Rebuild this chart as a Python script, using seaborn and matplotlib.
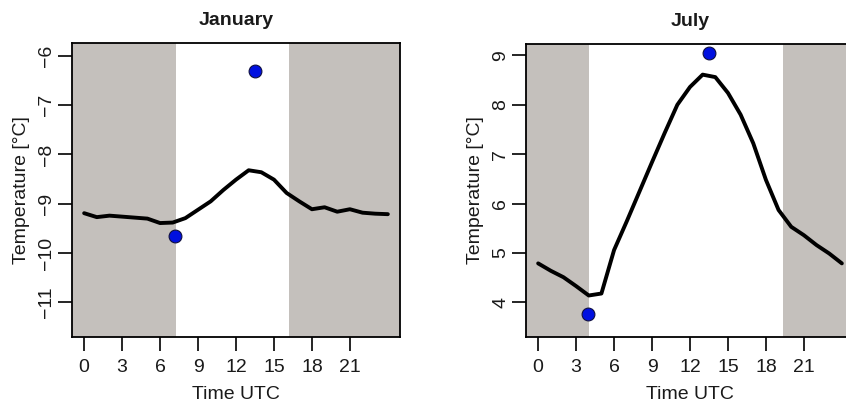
import numpy as np
import pandas as pd
import matplotlib
matplotlib.use("Agg")
import matplotlib.pyplot as plt
import seaborn as sns

# ---- data ----
hours = list(range(25))
jan_temp = [-9.19, -9.27, -9.24, -9.26, -9.28, -9.30, -9.39, -9.38, -9.29, -9.12,
            -8.95, -8.72, -8.51, -8.32, -8.36, -8.51, -8.78, -8.95, -9.11, -9.07,
            -9.16, -9.11, -9.18, -9.20, -9.21]
jul_temp = [4.79, 4.64, 4.51, 4.33, 4.14, 4.18, 5.06, 5.64, 6.24, 6.84,
            7.43, 8.00, 8.36, 8.61, 8.56, 8.24, 7.80, 7.22, 6.48, 5.87,
            5.53, 5.36, 5.16, 4.99, 4.79]
jan_pts_x = [7.16, 13.52]
jan_pts_y = [-9.66, -6.30]
jul_pts_x = [3.95, 13.53]
jul_pts_y = [3.76, 9.05]
jan_daylight = (7.25, 16.2)
jul_daylight = (4.0, 19.34)
titles = ["January", "July"]
xticks = [0, 3, 6, 9, 12, 15, 18, 21]
jan_yticks = [-11, -10, -9, -8, -7, -6]
jul_yticks = [4, 5, 6, 7, 8, 9]

sns.set_style("white")
plt.rcParams["font.family"] = ["Liberation Sans", "DejaVu Sans"]
plt.rcParams["font.size"] = 14

fig = plt.figure(figsize=(8.46, 4.08), dpi=100)
ax1 = fig.add_axes([72/846, 1-337/408, 328/846, (337-43)/408])
ax2 = fig.add_axes([526/846, 1-337/408, 328/846, (337-44)/408])

panels = [
    (ax1, jan_temp, jan_pts_x, jan_pts_y, jan_daylight, titles[0], jan_yticks, (-11.70, -5.74)),
    (ax2, jul_temp, jul_pts_x, jul_pts_y, jul_daylight, titles[1], jul_yticks, (3.30, 9.23)),
]
gray = "#C4C0BC"
txtc = "#1a1a1a"
fs = 14
for ax, temp, px, py, day, title, yt, ylim in panels:
    ax.set_facecolor("white")
    ax.axvspan(-5, day[0], color=gray, lw=0, zorder=0)
    ax.axvspan(day[1], 30, color=gray, lw=0, zorder=0)
    df = pd.DataFrame({"hour": hours, "temp": temp})
    sns.lineplot(data=df, x="hour", y="temp", ax=ax, color="black", lw=2.8, zorder=3)
    sns.scatterplot(x=px, y=py, ax=ax, color="#0010E0", edgecolor="#101040",
                    s=85, linewidth=0.8, zorder=4)
    ax.set_xlim(-0.96, 24.96)
    ax.set_ylim(*ylim)
    ax.set_xticks(xticks)
    ax.set_yticks(yt)
    ax.set_yticklabels([str(v).replace("-", "\u2212") for v in yt],
                       rotation=90, va="center", ha="right")
    ax.tick_params(axis="both", direction="out", length=10, width=1.2,
                   color="black", labelcolor=txtc, labelsize=fs,
                   bottom=True, left=True)
    ax.tick_params(axis="x", pad=6)
    ax.tick_params(axis="y", pad=2)
    for s in ax.spines.values():
        s.set_visible(True)
        s.set_color("black")
        s.set_linewidth(1.3)
    ax.set_xlabel("Time UTC", fontsize=fs, color=txtc, labelpad=7)
    ax.set_ylabel("Temperature [\u00b0C]", fontsize=fs, color=txtc, labelpad=6)
    ax.set_title(title, fontsize=fs, fontweight="bold", color=txtc, pad=13)

fig.savefig("out.png", dpi=100)
